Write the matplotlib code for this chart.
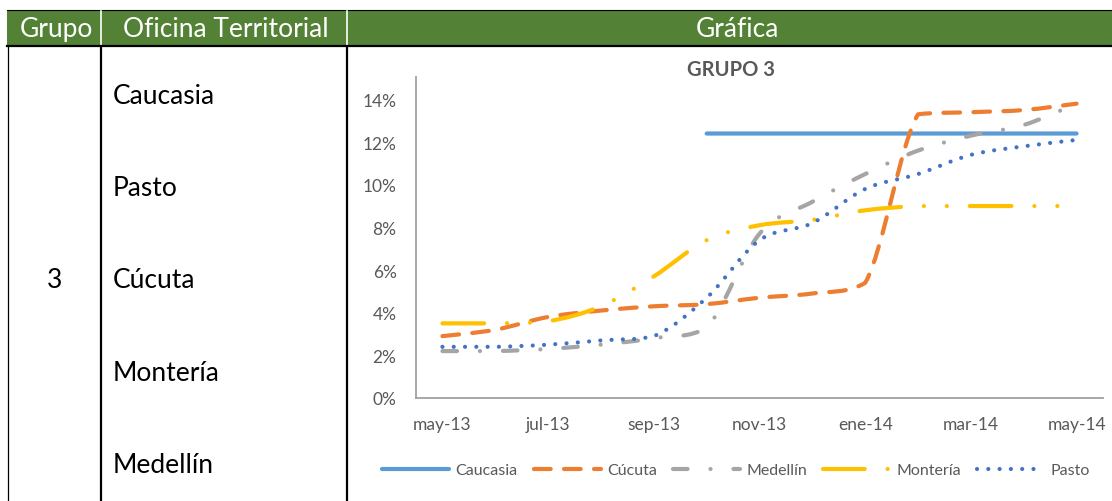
import numpy as np
import matplotlib
matplotlib.use("Agg")
import matplotlib.pyplot as plt
from matplotlib.path import Path
from matplotlib.patches import PathPatch, Rectangle
from matplotlib.lines import Line2D

plt.rcParams['font.family'] = ['Lato', 'DejaVu Sans']

# data (monthly values in %, may-13 .. may-14)
months = ['may-13', 'jun-13', 'jul-13', 'ago-13', 'sep-13', 'oct-13', 'nov-13',
          'dic-13', 'ene-14', 'feb-14', 'mar-14', 'abr-14', 'may-14']
caucasia = [None, None, None, None, None, 12.4, 12.4, 12.4, 12.4, 12.4, 12.4, 12.4, 12.4]
cucuta = [2.9, 3.2, 3.8, 4.1, 4.3, 4.4, 4.7, 4.9, 5.4, 13.3, 13.4, 13.5, 13.8]
medellin = [2.2, 2.2, 2.3, 2.5, 2.8, 3.3, 7.7, 9.2, 10.5, 11.6, 12.3, 12.8, 13.8]
monteria = [3.5, 3.5, 3.6, 4.3, 5.7, 7.4, 8.1, 8.35, 8.8, 9.0, 9.0, 9.0, 9.0]
pasto = [2.4, 2.4, 2.5, 2.7, 2.9, 4.7, 7.4, 8.2, 9.8, 10.5, 11.4, 11.8, 12.1]

series_names = ['Caucasia', 'Cúcuta', 'Medellín', 'Montería', 'Pasto']
series_vals = [caucasia, cucuta, medellin, monteria, pasto]
colors = ['#5B9BD5', '#ED7D31', '#A5A5A5', '#FFC000', '#4472C4']
styles = ['-', (0, (4, 3.2)), (0, (3.5, 5.5, 0.01, 5.5)),
          (0, (10, 5.5, 0.01, 5.5, 0.01, 5.5)), (0, (0.01, 2.7))]
y_ticks = [0, 2, 4, 6, 8, 10, 12, 14]

W, H = 1112, 502
fig = plt.figure(figsize=(W / 100, H / 100), dpi=100)


def fx(px):
    return px / W


def fy(py):
    return 1 - py / H


# ---- table frame
green = '#538135'
fig.patches.append(Rectangle((fx(7), fy(47)), fx(W - 7), 36 / H, transform=fig.transFigure,
                             facecolor=green, edgecolor='none', zorder=0))
fig.lines.append(Line2D([fx(7), 1], [fy(11), fy(11)], transform=fig.transFigure, color='black', lw=0.8))
fig.lines.append(Line2D([fx(7), 1], [fy(47), fy(47)], transform=fig.transFigure, color='black', lw=1.6))
for xs in [101, 347]:
    fig.lines.append(Line2D([fx(xs), fx(xs)], [fy(12), fy(46)], transform=fig.transFigure, color='white', lw=1.2))
    fig.lines.append(Line2D([fx(xs), fx(xs)], [fy(47), 0], transform=fig.transFigure, color='black', lw=1.6))
fig.lines.append(Line2D([fx(7.5), fx(7.5)], [fy(47), 0], transform=fig.transFigure, color='black', lw=0.9))

tsize = 19
fig.text(fx(56), fy(30), 'Grupo', color='white', fontsize=tsize, ha='center', va='center')
fig.text(fx(226), fy(30), 'Oficina Territorial', color='white', fontsize=tsize, ha='center', va='center')
fig.text(fx(737), fy(30), 'Gráfica', color='white', fontsize=tsize, ha='center', va='center')
fig.text(fx(55), fy(281), '3', color='black', fontsize=tsize, ha='center', va='center')
for name, yy in zip(['Caucasia', 'Pasto', 'Cúcuta', 'Montería', 'Medellín'], [97, 189, 281, 374, 466]):
    fig.text(fx(113), fy(yy), name, color='black', fontsize=tsize, ha='left', va='center')

# ---- chart
ax = fig.add_axes([fx(416), fy(399), fx(1103 - 416), (399 - 78) / H])
ax.set_xlim(-0.5, len(months) - 0.5)
ax.set_ylim(0, 15.05)


def smooth_path(vals):
    # Excel-like smoothed line: cubic bezier through the points
    pts = [(i, v) for i, v in enumerate(vals) if v is not None]
    P = np.array(pts, dtype=float)
    n = len(P)
    verts = [P[0]]
    codes = [Path.MOVETO]
    for i in range(n - 1):
        p0 = P[i - 1] if i > 0 else P[i]
        p1 = P[i]
        p2 = P[i + 1]
        p3 = P[i + 2] if i + 2 < n else P[i + 1]
        c1 = p1 + (p2 - p0) / 6
        c2 = p2 - (p3 - p1) / 6
        lo, hi = min(p1[1], p2[1]), max(p1[1], p2[1])
        c1[1] = np.clip(c1[1], lo, hi)
        c2[1] = np.clip(c2[1], lo, hi)
        verts += [c1, c2, p2]
        codes += [Path.CURVE4] * 3
    return Path(verts, codes)


handles = []
for name, vals, c, ls in zip(series_names, series_vals, colors, styles):
    patch = PathPatch(smooth_path(vals), fill=False, edgecolor=c, lw=3, linestyle=ls,
                      capstyle='round', joinstyle='round', zorder=3)
    ax.add_patch(patch)
    handles.append(Line2D([], [], color=c, lw=3, linestyle=ls, dash_capstyle='round',
                          solid_capstyle='round', label=name))

for s in ['top', 'right']:
    ax.spines[s].set_visible(False)
for s in ['left', 'bottom']:
    ax.spines[s].set_color('#A0A0A0')
    ax.spines[s].set_linewidth(1.3)

ax.set_yticks(y_ticks)
ax.set_yticklabels([f'{v}%' for v in y_ticks])
ax.set_xticks(range(0, len(months), 2))
ax.set_xticklabels(months[::2])
ax.tick_params(axis='y', length=0, pad=14, labelsize=12.5, labelcolor='#595959')
ax.tick_params(axis='x', length=0, pad=13, labelsize=12.5, labelcolor='#595959')

fig.text(fx(731), fy(70), 'GRUPO 3', color='#595959', fontsize=14.5, fontweight='bold',
         ha='center', va='center')

fig.legend(handles=handles, loc='center', bbox_to_anchor=(fx(736), fy(471)), ncol=5,
           frameon=False, fontsize=11.5, labelcolor='#595959', handlelength=4.2,
           handletextpad=0.4, columnspacing=1.0)

fig.savefig('out.png', dpi=100)
